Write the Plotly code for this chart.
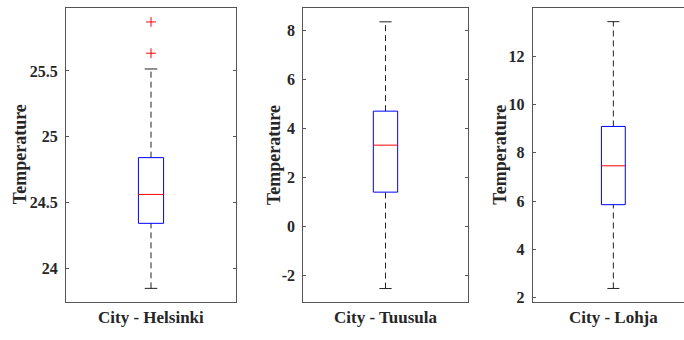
import plotly.graph_objects as go

# ---------------- data ----------------
cities = ["Helsinki", "Tuusula", "Lohja"]
x_labels = ["City - Helsinki", "City - Tuusula", "City - Lohja"]
y_label = "Temperature"
q1 = [24.34, 1.40, 5.85]
median = [24.56, 3.32, 7.46]
q3 = [24.84, 4.71, 9.09]
whisker_low = [23.845, -2.54, 2.38]
whisker_high = [25.515, 8.36, 13.43]
outliers = [[25.635, 25.873], [], []]
y_ranges = [[23.745, 25.98], [-3.07, 8.93], [1.84, 14.0]]
tick_vals = [[24, 24.5, 25, 25.5], [-2, 0, 2, 4, 6, 8], [2, 4, 6, 8, 10, 12]]
tick_text = [["24", "24.5", "25", "25.5"], ["-2", "0", "2", "4", "6", "8"],
             ["2", "4", "6", "8", "10", "12"]]

# ---------------- style ----------------
W, H = 684, 340
lefts = [66, 303.3, 532.7]
rights = [236, 467.7, 694]
top_px, bot_px = 8, 306
title_offsets = [46.5, 30, 32.7]
FONT = "Liberation Serif"
TXT = "#262626"
AX = "#555555"
half_box = 0.074
half_cap = 0.037
pos = 1.0

fig = go.Figure()
for i in range(3):
    n = "" if i == 0 else str(i + 1)
    xa, ya = "x" + n, "y" + n
    L, R = lefts[i], rights[i]
    Rv = min(R, W)
    xr = [0.5, 0.5 + (Rv - L) / (R - L)]
    # whiskers (dashed)
    for a, b in [(q3[i], whisker_high[i]), (whisker_low[i], q1[i])]:
        fig.add_trace(go.Scatter(x=[pos, pos], y=[a, b], mode="lines",
                                 line=dict(color="#222222", width=1, dash="6px,4px"),
                                 xaxis=xa, yaxis=ya, showlegend=False, hoverinfo="skip"))
    # caps
    for v in [whisker_high[i], whisker_low[i]]:
        fig.add_trace(go.Scatter(x=[pos - half_cap, pos + half_cap], y=[v, v], mode="lines",
                                 line=dict(color="#222222", width=1),
                                 xaxis=xa, yaxis=ya, showlegend=False, hoverinfo="skip"))
    # box
    fig.add_trace(go.Scatter(x=[pos - half_box, pos + half_box, pos + half_box, pos - half_box, pos - half_box],
                             y=[q1[i], q1[i], q3[i], q3[i], q1[i]], mode="lines",
                             line=dict(color="#0000ff", width=1),
                             xaxis=xa, yaxis=ya, showlegend=False, name=cities[i]))
    # median
    fig.add_trace(go.Scatter(x=[pos - half_box, pos + half_box], y=[median[i], median[i]], mode="lines",
                             line=dict(color="#ff0000", width=1),
                             xaxis=xa, yaxis=ya, showlegend=False, hoverinfo="skip"))
    # outliers
    if outliers[i]:
        fig.add_trace(go.Scatter(x=[pos] * len(outliers[i]), y=outliers[i], mode="markers",
                                 marker=dict(symbol="cross-thin", size=7,
                                             line=dict(color="#ff0000", width=1)),
                                 xaxis=xa, yaxis=ya, showlegend=False))
    dom_x = [L / W, Rv / W]
    dom_y = [1 - bot_px / H, 1 - top_px / H]
    fig.layout["xaxis" + n] = dict(domain=dom_x, range=xr, showticklabels=False, ticks="",
                                   showgrid=False, zeroline=False, showline=True,
                                   mirror=True, linecolor=AX, linewidth=1,
                                   anchor="y" + n, fixedrange=True)
    fig.layout["yaxis" + n] = dict(domain=dom_y, range=y_ranges[i], tickvals=tick_vals[i],
                                   ticktext=tick_text[i],
                                   ticks="inside", ticklen=3,
                                   tickcolor=AX, showgrid=False, zeroline=False,
                                   showline=True, mirror=("ticks" if R <= W else False),
                                   linecolor=AX, linewidth=1, anchor="x" + n,
                                   ticklabelstandoff=4,
                                   tickfont=dict(family=FONT, size=16, color=TXT, weight=700),
                                   fixedrange=True)
    fig.add_annotation(text="<b>%s</b>" % y_label, xref="paper", yref="paper",
                       x=(L - title_offsets[i]) / W, y=1 - (top_px + bot_px) / 2 / H,
                       xanchor="center", yanchor="middle", textangle=-90, showarrow=False,
                       font=dict(family=FONT, size=18, color=TXT))
    fig.add_annotation(text="<b>%s</b>" % x_labels[i], xref="paper", yref="paper",
                       x=(L + R) / 2 / W, y=1 - 322 / H,
                       xanchor="center", yanchor="middle", showarrow=False,
                       font=dict(family=FONT, size=17, color=TXT))

fig.update_layout(width=W, height=H, margin=dict(l=0, r=0, t=0, b=0),
                  paper_bgcolor="white", plot_bgcolor="white")
fig.write_html("out.html")
